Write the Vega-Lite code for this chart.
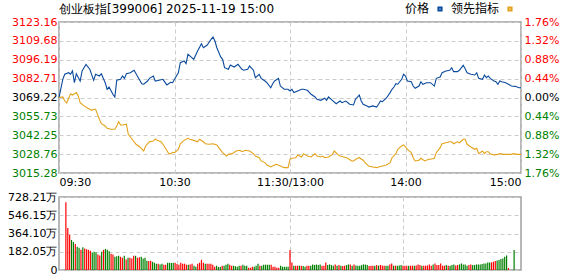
{
  "$schema": "https://vega.github.io/schema/vega-lite/v6.json",
  "padding": {"left": 2, "top": 2, "right": 2, "bottom": 0},
  "spacing": 2,
  "config": {
    "view": {"stroke": "#a0a0a0", "strokeWidth": 1.5},
    "font": "DejaVu Sans",
    "axis": {"labelFont": "DejaVu Sans", "labelFontSize": 11, "ticks": false, "domain": false, "gridColor": "#cccccc", "gridDash": [4, 3], "labelPadding": 2, "labelOverlap": false, "labelColor": "#000000"}
  },
  "resolve": {"scale": {"color": "independent", "x": "independent"}, "legend": {"color": "independent"}},
  "datasets": {
    "lines": [
      {"s":"价格","m":0,"p":3069.2},{"s":"价格","m":2,"p":3082.4},{"s":"价格","m":3,"p":3085.8},{"s":"价格","m":5,"p":3086.9},{"s":"价格","m":6,"p":3085.8},{"s":"价格","m":7,"p":3088.2},{"s":"价格","m":8,"p":3079.8},{"s":"价格","m":9,"p":3086.2},{"s":"价格","m":11,"p":3081.0},{"s":"价格","m":12,"p":3088.2},{"s":"价格","m":14,"p":3092.9},{"s":"价格","m":16,"p":3089.4},{"s":"价格","m":18,"p":3081.5},{"s":"价格","m":19,"p":3085.8},{"s":"价格","m":21,"p":3084.6},{"s":"价格","m":22,"p":3086.2},{"s":"价格","m":24,"p":3079.8},{"s":"价格","m":25,"p":3075.1},{"s":"价格","m":26,"p":3076.7},{"s":"价格","m":28,"p":3071.5},{"s":"价格","m":29,"p":3069.6},{"s":"价格","m":30,"p":3081.5},{"s":"价格","m":32,"p":3082.2},{"s":"价格","m":33,"p":3084.6},{"s":"价格","m":34,"p":3082.9},{"s":"价格","m":35,"p":3086.2},{"s":"价格","m":37,"p":3086.9},{"s":"价格","m":39,"p":3088.7},{"s":"价格","m":41,"p":3083.9},{"s":"价格","m":43,"p":3079.1},{"s":"价格","m":44,"p":3078.7},{"s":"价格","m":46,"p":3081.0},{"s":"价格","m":47,"p":3082.9},{"s":"价格","m":49,"p":3084.6},{"s":"价格","m":50,"p":3081.0},{"s":"价格","m":52,"p":3081.5},{"s":"价格","m":54,"p":3082.2},{"s":"价格","m":56,"p":3078.2},{"s":"价格","m":58,"p":3080.1},{"s":"价格","m":59,"p":3079.8},{"s":"价格","m":61,"p":3084.6},{"s":"价格","m":62,"p":3086.9},{"s":"价格","m":63,"p":3094.1},{"s":"价格","m":65,"p":3095.3},{"s":"价格","m":66,"p":3093.4},{"s":"价格","m":67,"p":3100.1},{"s":"价格","m":69,"p":3097.7},{"s":"价格","m":70,"p":3096.5},{"s":"价格","m":72,"p":3102.4},{"s":"价格","m":74,"p":3107.7},{"s":"价格","m":75,"p":3104.8},{"s":"价格","m":77,"p":3106.7},{"s":"价格","m":79,"p":3110.8},{"s":"价格","m":80,"p":3112.4},{"s":"价格","m":81,"p":3109.6},{"s":"价格","m":82,"p":3104.8},{"s":"价格","m":84,"p":3098.2},{"s":"价格","m":85,"p":3096.5},{"s":"价格","m":86,"p":3090.5},{"s":"价格","m":88,"p":3089.4},{"s":"价格","m":89,"p":3092.4},{"s":"价格","m":91,"p":3091.0},{"s":"价格","m":93,"p":3092.9},{"s":"价格","m":95,"p":3089.4},{"s":"价格","m":96,"p":3088.7},{"s":"价格","m":98,"p":3089.4},{"s":"价格","m":99,"p":3091.7},{"s":"价格","m":101,"p":3088.7},{"s":"价格","m":102,"p":3083.4},{"s":"价格","m":104,"p":3085.8},{"s":"价格","m":105,"p":3082.9},{"s":"价格","m":107,"p":3081.0},{"s":"价格","m":108,"p":3079.8},{"s":"价格","m":110,"p":3076.2},{"s":"价格","m":111,"p":3079.1},{"s":"价格","m":112,"p":3081.0},{"s":"价格","m":114,"p":3082.9},{"s":"价格","m":115,"p":3077.4},{"s":"价格","m":117,"p":3075.1},{"s":"价格","m":119,"p":3075.1},{"s":"价格","m":120,"p":3073.9},{"s":"价格","m":121,"p":3075.1},{"s":"价格","m":122,"p":3072.7},{"s":"价格","m":124,"p":3073.9},{"s":"价格","m":126,"p":3075.1},{"s":"价格","m":127,"p":3075.1},{"s":"价格","m":129,"p":3074.4},{"s":"价格","m":131,"p":3071.5},{"s":"价格","m":133,"p":3069.6},{"s":"价格","m":134,"p":3067.9},{"s":"价格","m":136,"p":3067.2},{"s":"价格","m":138,"p":3068.7},{"s":"价格","m":139,"p":3067.2},{"s":"价格","m":140,"p":3069.6},{"s":"价格","m":142,"p":3067.2},{"s":"价格","m":144,"p":3064.8},{"s":"价格","m":146,"p":3066.7},{"s":"价格","m":147,"p":3065.5},{"s":"价格","m":149,"p":3066.7},{"s":"价格","m":151,"p":3064.4},{"s":"价格","m":153,"p":3063.9},{"s":"价格","m":154,"p":3067.9},{"s":"价格","m":156,"p":3071.0},{"s":"价格","m":157,"p":3066.7},{"s":"价格","m":158,"p":3064.4},{"s":"价格","m":160,"p":3063.2},{"s":"价格","m":161,"p":3062.4},{"s":"价格","m":163,"p":3063.2},{"s":"价格","m":165,"p":3062.4},{"s":"价格","m":166,"p":3064.4},{"s":"价格","m":167,"p":3066.7},{"s":"价格","m":168,"p":3066.2},{"s":"价格","m":170,"p":3068.7},{"s":"价格","m":172,"p":3072.7},{"s":"价格","m":173,"p":3075.1},{"s":"价格","m":174,"p":3076.7},{"s":"价格","m":175,"p":3079.1},{"s":"价格","m":176,"p":3078.7},{"s":"价格","m":178,"p":3082.2},{"s":"价格","m":179,"p":3085.8},{"s":"价格","m":180,"p":3084.6},{"s":"价格","m":181,"p":3081.0},{"s":"价格","m":183,"p":3080.5},{"s":"价格","m":184,"p":3077.4},{"s":"价格","m":185,"p":3075.8},{"s":"价格","m":187,"p":3077.4},{"s":"价格","m":188,"p":3080.5},{"s":"价格","m":189,"p":3078.7},{"s":"价格","m":191,"p":3079.8},{"s":"价格","m":193,"p":3079.8},{"s":"价格","m":195,"p":3077.4},{"s":"价格","m":196,"p":3082.9},{"s":"价格","m":198,"p":3083.9},{"s":"价格","m":199,"p":3086.9},{"s":"价格","m":201,"p":3088.2},{"s":"价格","m":203,"p":3088.7},{"s":"价格","m":204,"p":3090.5},{"s":"价格","m":205,"p":3087.7},{"s":"价格","m":207,"p":3087.7},{"s":"价格","m":208,"p":3088.7},{"s":"价格","m":210,"p":3092.2},{"s":"价格","m":211,"p":3089.8},{"s":"价格","m":212,"p":3086.9},{"s":"价格","m":214,"p":3085.8},{"s":"价格","m":216,"p":3085.3},{"s":"价格","m":217,"p":3086.9},{"s":"价格","m":218,"p":3082.9},{"s":"价格","m":220,"p":3082.2},{"s":"价格","m":221,"p":3085.3},{"s":"价格","m":222,"p":3083.4},{"s":"价格","m":223,"p":3084.6},{"s":"价格","m":224,"p":3082.9},{"s":"价格","m":226,"p":3081.0},{"s":"价格","m":227,"p":3080.5},{"s":"价格","m":228,"p":3078.7},{"s":"价格","m":229,"p":3081.0},{"s":"价格","m":230,"p":3080.5},{"s":"价格","m":232,"p":3079.8},{"s":"价格","m":233,"p":3079.1},{"s":"价格","m":235,"p":3077.4},{"s":"价格","m":237,"p":3077.2},{"s":"价格","m":239,"p":3076.2},{"s":"价格","m":240,"p":3076.2},
      {"s":"领先指标","m":0,"p":3069.2},{"s":"领先指标","m":2,"p":3069.6},{"s":"领先指标","m":3,"p":3066.7},{"s":"领先指标","m":4,"p":3065.3},{"s":"领先指标","m":5,"p":3068.7},{"s":"领先指标","m":6,"p":3071.9},{"s":"领先指标","m":7,"p":3071.0},{"s":"领先指标","m":9,"p":3072.7},{"s":"领先指标","m":10,"p":3070.3},{"s":"领先指标","m":11,"p":3065.5},{"s":"领先指标","m":13,"p":3063.2},{"s":"领先指标","m":15,"p":3061.5},{"s":"领先指标","m":17,"p":3060.1},{"s":"领先指标","m":18,"p":3060.8},{"s":"领先指标","m":19,"p":3060.8},{"s":"领先指标","m":20,"p":3057.2},{"s":"领先指标","m":21,"p":3053.7},{"s":"领先指标","m":22,"p":3050.5},{"s":"领先指标","m":24,"p":3048.9},{"s":"领先指标","m":25,"p":3047.2},{"s":"领先指标","m":27,"p":3046.5},{"s":"领先指标","m":29,"p":3046.5},{"s":"领先指标","m":30,"p":3048.9},{"s":"领先指标","m":31,"p":3052.0},{"s":"领先指标","m":32,"p":3049.6},{"s":"领先指标","m":33,"p":3049.6},{"s":"领先指标","m":35,"p":3050.1},{"s":"领先指标","m":36,"p":3042.9},{"s":"领先指标","m":38,"p":3039.4},{"s":"领先指标","m":40,"p":3035.8},{"s":"领先指标","m":42,"p":3033.9},{"s":"领先指标","m":44,"p":3031.0},{"s":"领先指标","m":45,"p":3034.6},{"s":"领先指标","m":47,"p":3037.6},{"s":"领先指标","m":49,"p":3038.1},{"s":"领先指标","m":50,"p":3039.6},{"s":"领先指标","m":51,"p":3038.6},{"s":"领先指标","m":53,"p":3037.6},{"s":"领先指标","m":54,"p":3035.8},{"s":"领先指标","m":56,"p":3031.5},{"s":"领先指标","m":57,"p":3029.1},{"s":"领先指标","m":58,"p":3029.1},{"s":"领先指标","m":59,"p":3030.1},{"s":"领先指标","m":60,"p":3029.8},{"s":"领先指标","m":62,"p":3032.2},{"s":"领先指标","m":63,"p":3036.2},{"s":"领先指标","m":65,"p":3038.6},{"s":"领先指标","m":67,"p":3040.1},{"s":"领先指标","m":68,"p":3039.4},{"s":"领先指标","m":70,"p":3038.6},{"s":"领先指标","m":72,"p":3037.6},{"s":"领先指标","m":73,"p":3039.4},{"s":"领先指标","m":75,"p":3037.6},{"s":"领先指标","m":76,"p":3036.2},{"s":"领先指标","m":78,"p":3035.8},{"s":"领先指标","m":80,"p":3036.2},{"s":"领先指标","m":82,"p":3035.3},{"s":"领先指标","m":83,"p":3033.4},{"s":"领先指标","m":85,"p":3029.8},{"s":"领先指标","m":87,"p":3027.4},{"s":"领先指标","m":88,"p":3028.6},{"s":"领先指标","m":90,"p":3029.1},{"s":"领先指标","m":92,"p":3031.0},{"s":"领先指标","m":94,"p":3031.5},{"s":"领先指标","m":95,"p":3030.5},{"s":"领先指标","m":97,"p":3031.5},{"s":"领先指标","m":99,"p":3031.0},{"s":"领先指标","m":101,"p":3029.1},{"s":"领先指标","m":102,"p":3027.4},{"s":"领先指标","m":104,"p":3026.2},{"s":"领先指标","m":105,"p":3023.9},{"s":"领先指标","m":107,"p":3022.7},{"s":"领先指标","m":108,"p":3021.0},{"s":"领先指标","m":110,"p":3019.6},{"s":"领先指标","m":112,"p":3021.0},{"s":"领先指标","m":113,"p":3021.5},{"s":"领先指标","m":115,"p":3020.3},{"s":"领先指标","m":117,"p":3019.1},{"s":"领先指标","m":119,"p":3019.1},{"s":"领先指标","m":120,"p":3025.1},{"s":"领先指标","m":121,"p":3025.8},{"s":"领先指标","m":123,"p":3026.2},{"s":"领先指标","m":124,"p":3028.2},{"s":"领先指标","m":126,"p":3026.7},{"s":"领先指标","m":127,"p":3029.1},{"s":"领先指标","m":129,"p":3027.4},{"s":"领先指标","m":131,"p":3026.7},{"s":"领先指标","m":133,"p":3029.1},{"s":"领先指标","m":134,"p":3027.4},{"s":"领先指标","m":136,"p":3026.7},{"s":"领先指标","m":137,"p":3027.4},{"s":"领先指标","m":138,"p":3026.2},{"s":"领先指标","m":140,"p":3026.7},{"s":"领先指标","m":142,"p":3028.6},{"s":"领先指标","m":143,"p":3031.0},{"s":"领先指标","m":145,"p":3028.2},{"s":"领先指标","m":146,"p":3027.4},{"s":"领先指标","m":148,"p":3026.7},{"s":"领先指标","m":150,"p":3025.8},{"s":"领先指标","m":152,"p":3023.9},{"s":"领先指标","m":153,"p":3023.9},{"s":"领先指标","m":155,"p":3025.8},{"s":"领先指标","m":156,"p":3026.2},{"s":"领先指标","m":158,"p":3024.4},{"s":"领先指标","m":159,"p":3022.7},{"s":"领先指标","m":161,"p":3020.1},{"s":"领先指标","m":163,"p":3019.6},{"s":"领先指标","m":165,"p":3019.1},{"s":"领先指标","m":166,"p":3019.6},{"s":"领先指标","m":168,"p":3020.3},{"s":"领先指标","m":170,"p":3021.0},{"s":"领先指标","m":172,"p":3022.7},{"s":"领先指标","m":173,"p":3026.2},{"s":"领先指标","m":175,"p":3029.1},{"s":"领先指标","m":176,"p":3032.2},{"s":"领先指标","m":178,"p":3034.6},{"s":"领先指标","m":179,"p":3035.3},{"s":"领先指标","m":180,"p":3033.9},{"s":"领先指标","m":181,"p":3032.2},{"s":"领先指标","m":183,"p":3029.8},{"s":"领先指标","m":184,"p":3026.2},{"s":"领先指标","m":185,"p":3023.9},{"s":"领先指标","m":187,"p":3024.4},{"s":"领先指标","m":188,"p":3025.8},{"s":"领先指标","m":190,"p":3023.9},{"s":"领先指标","m":192,"p":3025.1},{"s":"领先指标","m":193,"p":3025.1},{"s":"领先指标","m":195,"p":3025.8},{"s":"领先指标","m":196,"p":3029.8},{"s":"领先指标","m":198,"p":3033.4},{"s":"领先指标","m":199,"p":3036.2},{"s":"领先指标","m":201,"p":3036.9},{"s":"领先指标","m":203,"p":3037.6},{"s":"领先指标","m":204,"p":3037.6},{"s":"领先指标","m":205,"p":3036.2},{"s":"领先指标","m":207,"p":3037.6},{"s":"领先指标","m":208,"p":3036.9},{"s":"领先指标","m":210,"p":3039.4},{"s":"领先指标","m":211,"p":3039.4},{"s":"领先指标","m":212,"p":3035.8},{"s":"领先指标","m":214,"p":3033.9},{"s":"领先指标","m":216,"p":3032.2},{"s":"领先指标","m":217,"p":3032.9},{"s":"领先指标","m":218,"p":3029.1},{"s":"领先指标","m":220,"p":3031.0},{"s":"领先指标","m":221,"p":3029.1},{"s":"领先指标","m":222,"p":3030.5},{"s":"领先指标","m":223,"p":3030.5},{"s":"领先指标","m":224,"p":3029.1},{"s":"领先指标","m":226,"p":3028.2},{"s":"领先指标","m":228,"p":3028.6},{"s":"领先指标","m":229,"p":3029.1},{"s":"领先指标","m":231,"p":3028.6},{"s":"领先指标","m":235,"p":3028.6},{"s":"领先指标","m":236,"p":3029.1},{"s":"领先指标","m":238,"p":3028.6},{"s":"领先指标","m":240,"p":3028.6}
    ],
    "vol": [
      {"m":1,"v":675,"d":"r"},{"m":2,"v":418,"d":"r"},{"m":3,"v":352,"d":"r"},{"m":4,"v":300,"d":"g"},{"m":5,"v":280,"d":"g"},{"m":6,"v":260,"d":"r"},{"m":7,"v":231,"d":"g"},{"m":8,"v":221,"d":"g"},{"m":9,"v":201,"d":"r"},{"m":10,"v":227,"d":"g"},
      {"m":11,"v":214,"d":"r"},{"m":12,"v":208,"d":"r"},{"m":13,"v":201,"d":"r"},{"m":14,"v":191,"d":"r"},{"m":15,"v":175,"d":"g"},{"m":16,"v":181,"d":"g"},{"m":17,"v":175,"d":"g"},{"m":18,"v":155,"d":"r"},{"m":19,"v":145,"d":"r"},{"m":20,"v":181,"d":"g"},
      {"m":21,"v":201,"d":"r"},{"m":22,"v":211,"d":"g"},{"m":23,"v":201,"d":"g"},{"m":24,"v":188,"d":"g"},{"m":25,"v":161,"d":"r"},{"m":26,"v":155,"d":"r"},{"m":27,"v":132,"d":"g"},{"m":28,"v":138,"d":"g"},{"m":29,"v":142,"d":"g"},{"m":30,"v":132,"d":"r"},
      {"m":31,"v":122,"d":"r"},{"m":32,"v":142,"d":"g"},{"m":33,"v":105,"d":"r"},{"m":34,"v":122,"d":"g"},{"m":35,"v":122,"d":"r"},{"m":36,"v":115,"d":"r"},{"m":37,"v":142,"d":"r"},{"m":38,"v":142,"d":"g"},{"m":39,"v":122,"d":"r"},{"m":40,"v":128,"d":"r"},
      {"m":41,"v":132,"d":"g"},{"m":42,"v":115,"d":"g"},{"m":43,"v":122,"d":"g"},{"m":44,"v":92,"d":"g"},{"m":45,"v":89,"d":"r"},{"m":46,"v":92,"d":"r"},{"m":47,"v":82,"d":"g"},{"m":48,"v":72,"d":"g"},{"m":49,"v":63,"d":"g"},{"m":50,"v":63,"d":"r"},
      {"m":51,"v":56,"d":"g"},{"m":52,"v":63,"d":"g"},{"m":53,"v":53,"d":"r"},{"m":54,"v":53,"d":"r"},{"m":55,"v":72,"d":"g"},{"m":56,"v":72,"d":"g"},{"m":57,"v":70,"d":"g"},{"m":58,"v":72,"d":"g"},{"m":59,"v":72,"d":"r"},{"m":60,"v":59,"d":"r"},
      {"m":61,"v":53,"d":"r"},{"m":62,"v":72,"d":"r"},{"m":63,"v":63,"d":"r"},{"m":64,"v":63,"d":"r"},{"m":65,"v":53,"d":"r"},{"m":66,"v":53,"d":"g"},{"m":67,"v":56,"d":"r"},{"m":68,"v":63,"d":"r"},{"m":69,"v":43,"d":"g"},{"m":70,"v":33,"d":"g"},
      {"m":71,"v":63,"d":"r"},{"m":72,"v":72,"d":"r"},{"m":73,"v":102,"d":"r"},{"m":74,"v":72,"d":"r"},{"m":75,"v":63,"d":"g"},{"m":76,"v":63,"d":"r"},{"m":77,"v":63,"d":"r"},{"m":78,"v":63,"d":"r"},{"m":79,"v":53,"d":"r"},{"m":80,"v":33,"d":"r"},
      {"m":81,"v":43,"d":"g"},{"m":82,"v":30,"d":"g"},{"m":83,"v":30,"d":"g"},{"m":84,"v":43,"d":"r"},{"m":85,"v":43,"d":"g"},{"m":86,"v":53,"d":"g"},{"m":87,"v":63,"d":"g"},{"m":88,"v":53,"d":"r"},{"m":89,"v":43,"d":"r"},{"m":90,"v":43,"d":"g"},
      {"m":91,"v":38,"d":"g"},{"m":92,"v":33,"d":"g"},{"m":93,"v":43,"d":"g"},{"m":94,"v":43,"d":"r"},{"m":95,"v":53,"d":"g"},{"m":96,"v":43,"d":"g"},{"m":97,"v":43,"d":"g"},{"m":98,"v":23,"d":"r"},{"m":99,"v":23,"d":"r"},{"m":100,"v":33,"d":"r"},
      {"m":101,"v":33,"d":"g"},{"m":102,"v":43,"d":"g"},{"m":103,"v":63,"d":"g"},{"m":104,"v":43,"d":"r"},{"m":105,"v":43,"d":"g"},{"m":106,"v":53,"d":"g"},{"m":107,"v":53,"d":"g"},{"m":108,"v":53,"d":"g"},{"m":109,"v":53,"d":"g"},{"m":110,"v":53,"d":"r"},
      {"m":111,"v":33,"d":"r"},{"m":112,"v":33,"d":"r"},{"m":113,"v":23,"d":"r"},{"m":114,"v":23,"d":"r"},{"m":115,"v":43,"d":"g"},{"m":116,"v":33,"d":"g"},{"m":117,"v":33,"d":"g"},{"m":118,"v":33,"d":"g"},{"m":119,"v":33,"d":"g"},{"m":120,"v":200,"d":"r"},
      {"m":121,"v":76,"d":"r"},{"m":122,"v":43,"d":"g"},{"m":123,"v":43,"d":"r"},{"m":124,"v":43,"d":"r"},{"m":125,"v":43,"d":"g"},{"m":126,"v":43,"d":"r"},{"m":127,"v":40,"d":"g"},{"m":128,"v":33,"d":"g"},{"m":129,"v":43,"d":"r"},{"m":130,"v":43,"d":"r"},
      {"m":131,"v":43,"d":"g"},{"m":132,"v":56,"d":"g"},{"m":133,"v":50,"d":"g"},{"m":134,"v":56,"d":"g"},{"m":135,"v":49,"d":"g"},{"m":136,"v":56,"d":"g"},{"m":137,"v":43,"d":"r"},{"m":138,"v":43,"d":"r"},{"m":139,"v":76,"d":"r"},{"m":140,"v":50,"d":"g"},
      {"m":141,"v":56,"d":"g"},{"m":142,"v":49,"d":"g"},{"m":143,"v":43,"d":"g"},{"m":144,"v":56,"d":"r"},{"m":145,"v":43,"d":"g"},{"m":146,"v":49,"d":"r"},{"m":147,"v":43,"d":"g"},{"m":148,"v":40,"d":"r"},{"m":149,"v":43,"d":"r"},{"m":150,"v":49,"d":"g"},
      {"m":151,"v":56,"d":"g"},{"m":152,"v":56,"d":"r"},{"m":153,"v":43,"d":"g"},{"m":154,"v":56,"d":"r"},{"m":155,"v":45,"d":"g"},{"m":156,"v":43,"d":"g"},{"m":157,"v":43,"d":"g"},{"m":158,"v":49,"d":"g"},{"m":159,"v":56,"d":"g"},{"m":160,"v":56,"d":"g"},
      {"m":161,"v":49,"d":"g"},{"m":162,"v":40,"d":"r"},{"m":163,"v":43,"d":"r"},{"m":164,"v":43,"d":"r"},{"m":165,"v":43,"d":"g"},{"m":166,"v":49,"d":"r"},{"m":167,"v":43,"d":"g"},{"m":168,"v":49,"d":"r"},{"m":169,"v":45,"d":"r"},{"m":170,"v":43,"d":"r"},
      {"m":171,"v":43,"d":"g"},{"m":172,"v":43,"d":"g"},{"m":173,"v":56,"d":"r"},{"m":174,"v":66,"d":"r"},{"m":175,"v":43,"d":"g"},{"m":176,"v":43,"d":"r"},{"m":177,"v":43,"d":"g"},{"m":178,"v":45,"d":"g"},{"m":179,"v":49,"d":"g"},{"m":180,"v":43,"d":"r"},
      {"m":181,"v":43,"d":"r"},{"m":182,"v":43,"d":"r"},{"m":183,"v":43,"d":"g"},{"m":184,"v":43,"d":"r"},{"m":185,"v":43,"d":"r"},{"m":186,"v":43,"d":"g"},{"m":187,"v":45,"d":"r"},{"m":188,"v":56,"d":"r"},{"m":189,"v":49,"d":"r"},{"m":190,"v":43,"d":"g"},
      {"m":191,"v":43,"d":"r"},{"m":192,"v":43,"d":"r"},{"m":193,"v":45,"d":"r"},{"m":194,"v":56,"d":"r"},{"m":195,"v":43,"d":"r"},{"m":196,"v":56,"d":"g"},{"m":197,"v":66,"d":"r"},{"m":198,"v":49,"d":"r"},{"m":199,"v":50,"d":"r"},{"m":200,"v":66,"d":"r"},
      {"m":201,"v":43,"d":"r"},{"m":202,"v":43,"d":"r"},{"m":203,"v":49,"d":"g"},{"m":204,"v":43,"d":"r"},{"m":205,"v":43,"d":"g"},{"m":206,"v":49,"d":"g"},{"m":207,"v":56,"d":"g"},{"m":208,"v":45,"d":"r"},{"m":209,"v":49,"d":"r"},{"m":210,"v":56,"d":"g"},
      {"m":211,"v":66,"d":"g"},{"m":212,"v":56,"d":"g"},{"m":213,"v":56,"d":"g"},{"m":214,"v":43,"d":"g"},{"m":215,"v":50,"d":"r"},{"m":216,"v":56,"d":"r"},{"m":217,"v":49,"d":"g"},{"m":218,"v":49,"d":"g"},{"m":219,"v":56,"d":"g"},{"m":220,"v":56,"d":"g"},
      {"m":221,"v":56,"d":"g"},{"m":222,"v":60,"d":"g"},{"m":223,"v":66,"d":"g"},{"m":224,"v":66,"d":"g"},{"m":225,"v":76,"d":"g"},{"m":226,"v":76,"d":"g"},{"m":227,"v":76,"d":"r"},{"m":228,"v":82,"d":"r"},{"m":229,"v":89,"d":"r"},{"m":230,"v":95,"d":"g"},
      {"m":231,"v":99,"d":"g"},{"m":232,"v":109,"d":"g"},{"m":233,"v":115,"d":"g"},{"m":234,"v":132,"d":"g"},{"m":235,"v":145,"d":"g"},{"m":236,"v":20,"d":"r"},{"m":239,"v":200,"d":"g"}
    ]
  },
  "vconcat": [
    {
      "width": 462,
      "height": 151,
      "title": {"text": "创业板指[399006] 2025-11-19 15:00", "anchor": "start", "frame": "group", "fontSize": 12, "fontWeight": "normal", "font": "DejaVu Sans", "offset": -13, "color": "#000000"},
      "data": {"name": "lines"},
      "layer": [
        {
          "mark": {"type": "line", "strokeWidth": 1.1},
          "encoding": {
            "x": {"field": "m", "type": "quantitative", "scale": {"domain": [0, 240], "nice": false, "zero": false},
              "axis": {"values": [0, 60, 120, 180, 240], "labelFlush": true, "title": null, "grid": true, "labelPadding": 3,
                "labelExpr": "datum.value == 0 ? '09:30' : datum.value == 60 ? '10:30' : datum.value == 120 ? '11:30/13:00' : datum.value == 180 ? '14:00' : '15:00'"}},
            "y": {"field": "p", "type": "quantitative", "scale": {"domain": [3015.28, 3123.16], "nice": false, "zero": false},
              "axis": {"values": [3015.28, 3028.76, 3042.25, 3055.73, 3069.22, 3082.71, 3096.19, 3109.68, 3123.16], "format": ".2f", "title": null, "minExtent": 56, "maxExtent": 56,
                "labelColor": {"condition": [{"test": "datum.value > 3069.3", "value": "#ff0000"}, {"test": "datum.value < 3069.1", "value": "#008000"}], "value": "#000000"}}},
            "color": {"field": "s", "type": "nominal", "scale": {"domain": ["价格", "领先指标"], "range": ["#0a4a9c", "#e3a21a"]},
              "legend": {"orient": "none", "legendX": 375, "legendY": -19, "direction": "horizontal", "title": null, "symbolType": "square", "symbolSize": 10, "symbolStrokeWidth": 2, "labelFontSize": 12, "labelFont": "Noto Sans CJK SC", "labelAlign": "right", "labelOffset": -17, "columnPadding": 4, "labelColor": "#000000"}}
          }
        },
        {
          "mark": {"type": "line", "opacity": 0},
          "encoding": {
            "x": {"field": "m", "type": "quantitative"},
            "y": {"field": "p", "type": "quantitative", "scale": {"domain": [3015.28, 3123.16], "nice": false, "zero": false},
              "axis": {"orient": "right", "values": [3015.28, 3028.76, 3042.25, 3055.73, 3069.22, 3082.71, 3096.19, 3109.68, 3123.16], "title": null, "grid": false, "labelPadding": 3,
                "labelExpr": "format(abs(datum.value - 3069.22) / 3069.22 * 100, '.2f') + '%'",
                "labelColor": {"condition": [{"test": "datum.value > 3069.3", "value": "#ff0000"}, {"test": "datum.value < 3069.1", "value": "#008000"}], "value": "#000000"}}}
          }
        }
      ],
      "resolve": {"scale": {"y": "independent"}}
    },
    {
      "width": 462,
      "height": 73,
      "data": {"name": "vol"},
      "mark": {"type": "bar", "size": 1.2},
      "encoding": {
        "x": {"field": "m", "type": "quantitative", "scale": {"domain": [0, 240], "nice": false, "zero": false},
          "axis": {"values": [60, 120, 180], "labels": false, "title": null, "grid": true}},
        "y": {"field": "v", "type": "quantitative", "scale": {"domain": [0, 728.21], "nice": false},
          "axis": {"values": [0, 182.05, 364.1, 546.15, 728.21], "title": null, "minExtent": 56, "maxExtent": 56,
            "labelExpr": "datum.value == 0 ? '0' : format(datum.value, '.2f') + '万'"}},
        "color": {"field": "d", "type": "nominal", "scale": {"domain": ["r", "g"], "range": ["#ff0000", "#008000"]}, "legend": null}
      }
    }
  ]
}
